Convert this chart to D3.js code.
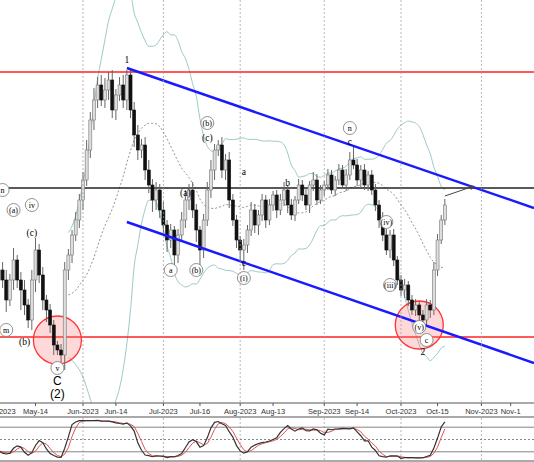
<!DOCTYPE html><html><head><meta charset="utf-8">
<script src="https://cdn.jsdelivr.net/npm/d3@7"></script>
<style>body{margin:0;background:#fff}svg{display:block;font-family:"Liberation Sans",Arial,sans-serif}</style></head><body>
<svg id="c" width="534" height="462"></svg>
<script>
// Trading-day closes (price points), first candle = 2023-05-01
const closes=[130,120,100,120,140,120,110,95,80,120,150,125,100,90,75,55,50,45,130,145,165,180,200,220,250,280,300,315,300,310,320,290,305,315,300,325,290,265,250,255,230,215,200,210,190,175,160,170,145,165,180,200,210,190,170,150,180,210,230,250,255,230,240,200,180,160,150,155,170,190,175,185,200,180,195,205,190,200,210,195,185,200,215,205,195,215,220,200,210,215,225,210,220,230,215,225,240,235,220,230,215,225,210,195,180,165,150,165,140,120,110,115,100,90,95,85,80,95,90,130,160,180,195];
const upWick=[70,8,10,6,12,5,8,10,6,10,12,6,8,5,6,5,4,6,8,6,5,8,6,8,10,8,12,8,10,12,8,10,6,8,10,5,6,8,10,6,8,10,6,8,6,8,5,6,4,6,8,10,6,8,6,4,6,8,10,6,5,8,6,8,6,5,4,6,5,8,6,5,6,5,6,4,5,6,8,5,6,4,6,5,6,4,8,6,5,4,6,5,4,6,5,6,8,15,6,5,6,4,5,6,5,8,6,5,6,4,5,6,4,5,6,4,5,6,5,8,6,5,6];
const dnWick=[10,8,12,6,10,8,20,10,8,10,12,8,10,12,8,10,5,8,15,10,8,6,8,10,6,8,10,8,6,8,10,8,10,6,8,10,8,12,10,8,10,8,12,10,8,10,12,8,10,8,6,8,10,8,12,15,8,6,8,10,6,8,10,8,6,8,12,20,8,6,8,10,6,8,5,6,8,5,6,8,5,6,4,6,5,8,6,5,4,6,5,4,6,5,4,6,5,4,6,8,5,6,5,6,8,6,5,8,6,5,6,8,6,5,6,8,5,6,8,5,6,4,5];
const dateTicks=["2023-05-01","2023-05-15","2023-06-01","2023-06-14","2023-07-03","2023-07-17","2023-08-01","2023-08-14","2023-09-01","2023-09-14","2023-10-02","2023-10-16","2023-11-01","2023-11-13"];
const tickLabels=["May-2023","May-14","Jun-2023","Jun-14","Jul-2023","Jul-16","Aug-2023","Aug-13","Sep-2023","Sep-14","Oct-2023","Oct-15","Nov-2023","Nov-1"];
const monthTicks=["2023-06-01","2023-07-03","2023-08-01","2023-09-01","2023-10-02","2023-11-01"];
const levelsRed=[328,63], levelBlack=212;
const channelUpper=[[37,332],[150,190]], channelLower=[[37,178],[150,35]];
const waveLabels=[[3,210,"n",1],[11,195,"iv",1],[11,167,"(c)",0],[6,190,"(a)",1],[4,70,"m",1],[9,58,"(b)",0],[18,32,"v",1],[18,18,"C",2],[18,5,"(2)",2],[37,340,"1",0],[53,207,"(a)",0],[59,277,"(b)",1],[59,262,"(c)",0],[49,130,"a",1],[56,130,"(b)",1],[69,228,"a",0],[69,137,"c",0],[69,122,"(i)",1],[81,217,"b",0],[98,272,"n",1],[98,258,"c",0],[108,178,"(iv)",1],[109,115,"(iii)",1],[117,73,"(v)",1],[119,60,"c",1],[118,48,"2",0]];
const circles=[[18,60],[117,75]];

const svg=d3.select("#c");
const base=new Date("2023-04-27");
function tIdx(s){let d=new Date(s),n=0,c=new Date(base);while(c<d){c.setDate(c.getDate()+1);if(c.getDay()%6!==0)n++;}return n;}
const x0=tIdx("2023-05-01");
const x=d3.scaleLinear().domain([25,112]).range([83,401]);
const y=d3.scaleLinear().domain([0,400]).range([400,0]);
const data=closes.map((c,i)=>{const o=i?closes[i-1]:c-10;return{i:x0+i,o,c,h:Math.max(o,c)+upWick[i],l:Math.min(o,c)-dnWick[i]};});
svg.append("defs").append("clipPath").attr("id","mc").append("rect").attr("width",534).attr("height",403);
const main=svg.append("g").attr("clip-path","url(#mc)");
const tickIdx=dateTicks.map(tIdx);
monthTicks.map(tIdx).forEach(t=>{[[0,403],[418,462]].forEach(r=>svg.append("line").attr("x1",x(t)).attr("x2",x(t)).attr("y1",r[0]).attr("y2",r[1]).attr("stroke","#999").attr("stroke-dasharray","2,2").attr("stroke-width",0.7));});
const N=20,bb=[];
data.forEach((d,i)=>{if(i<N-1)return;const w=data.slice(i-N+1,i+1).map(e=>e.c);const m=d3.mean(w),s=d3.deviation(w);bb.push({i:d.i,m,u:m+2*s,l:m-2*s});});
const ln=k=>d3.line().x(d=>x(d.i)).y(d=>y(d[k])).curve(d3.curveMonotoneX);
main.append("path").datum(bb).attr("d",ln("u")).attr("fill","none").attr("stroke","#9cc9c9");
main.append("path").datum(bb).attr("d",ln("l")).attr("fill","none").attr("stroke","#9cc9c9");
main.append("path").datum(bb).attr("d",ln("m")).attr("fill","none").attr("stroke","#777").attr("stroke-dasharray","2,2").attr("stroke-width",0.8);
levelsRed.forEach(v=>main.append("line").attr("x1",0).attr("x2",534).attr("y1",y(v)).attr("y2",y(v)).attr("stroke","#f22").attr("stroke-width",1.5));
main.append("line").attr("x1",0).attr("x2",534).attr("y1",y(levelBlack)).attr("y2",y(levelBlack)).attr("stroke","#222").attr("stroke-width",1.5);
circles.forEach(c=>main.append("circle").attr("cx",x(c[0])).attr("cy",y(c[1])).attr("r",24).attr("fill","rgba(255,120,120,0.28)").attr("stroke","#f33").attr("stroke-width",1.3));
const g=main.append("g");
data.forEach(d=>{const cx=x(d.i);g.append("line").attr("x1",cx).attr("x2",cx).attr("y1",y(d.h)).attr("y2",y(d.l)).attr("stroke","#666");
 const top=y(Math.max(d.o,d.c)),bot=y(Math.min(d.o,d.c));
 g.append("rect").attr("x",cx-1.5).attr("width",3).attr("y",top).attr("height",Math.max(1,bot-top)).attr("fill",d.c>=d.o?"#ddd":"#111").attr("stroke",d.c>=d.o?"#777":"#111").attr("stroke-width",0.6);});
function ext(p){const s=(p[1][1]-p[0][1])/(p[1][0]-p[0][0]);return[[x(p[0][0]),y(p[0][1])],[534,y(p[0][1]+s*(x.invert(534)-p[0][0]))]];}
[channelUpper,channelLower].forEach(p=>{const e=ext(p);main.append("line").attr("x1",e[0][0]).attr("y1",e[0][1]).attr("x2",e[1][0]).attr("y2",e[1][1]).attr("stroke","#1a1aff").attr("stroke-width",2.5);});
main.append("line").attr("x1",x(124)).attr("y1",y(204)).attr("x2",x(132)).attr("y2",y(214)).attr("stroke","#444");
main.append("path").attr("d",`M${x(132)},${y(214)}l-6,-1l3,5z`).attr("fill","#444");
waveLabels.forEach(w=>{const cx=x(w[0]),cy=y(w[1]);
 if(w[3]===1)main.append("circle").attr("cx",cx).attr("cy",cy).attr("r",6.5).attr("fill","#fff").attr("stroke","#777").attr("stroke-width",0.8);
 main.append("text").attr("x",cx).attr("y",cy+3).attr("text-anchor","middle").attr("font-size",w[3]===2?12:(w[3]===1?8:9.5)).attr("fill","#000").attr("font-family",w[3]===2?"Liberation Sans":"Liberation Serif").text(w[2]);});
[403,417,461].forEach(v=>svg.append("line").attr("x1",0).attr("x2",534).attr("y1",v).attr("y2",v).attr("stroke","#555"));
tickIdx.forEach((t,k)=>{svg.append("line").attr("x1",x(t)).attr("x2",x(t)).attr("y1",403).attr("y2",406).attr("stroke","#555");
 svg.append("text").attr("x",x(t)).attr("y",414).attr("text-anchor","middle").attr("font-size",7.5).attr("fill","#333").text(tickLabels[k]);});
const ys=d3.scaleLinear().domain([0,100]).range([460,419]);
[80,20].forEach(v=>svg.append("line").attr("x1",0).attr("x2",534).attr("y1",ys(v)).attr("y2",ys(v)).attr("stroke","#666").attr("stroke-width",0.8));
svg.append("line").attr("x1",0).attr("x2",534).attr("y1",ys(50)).attr("y2",ys(50)).attr("stroke","#888").attr("stroke-dasharray","2,2");
const raw=data.map((d,i)=>{const w=data.slice(Math.max(0,i-13),i+1);const hh=d3.max(w,e=>e.h),ll=d3.min(w,e=>e.l);return 100*(d.c-ll)/(hh-ll||1);});
const K=raw.map((v,i)=>d3.mean(raw.slice(Math.max(0,i-2),i+1)));
const D=K.map((v,i)=>d3.mean(K.slice(Math.max(0,i-2),i+1)));
const sl=arr=>d3.line().x((v,i)=>x(data[i].i)).y(v=>ys(v))(arr);
svg.append("path").attr("d",sl(D)).attr("fill","none").attr("stroke","#d55").attr("stroke-width",1);
svg.append("path").attr("d",sl(K)).attr("fill","none").attr("stroke","#333").attr("stroke-width",1.2);
</script></body></html>
